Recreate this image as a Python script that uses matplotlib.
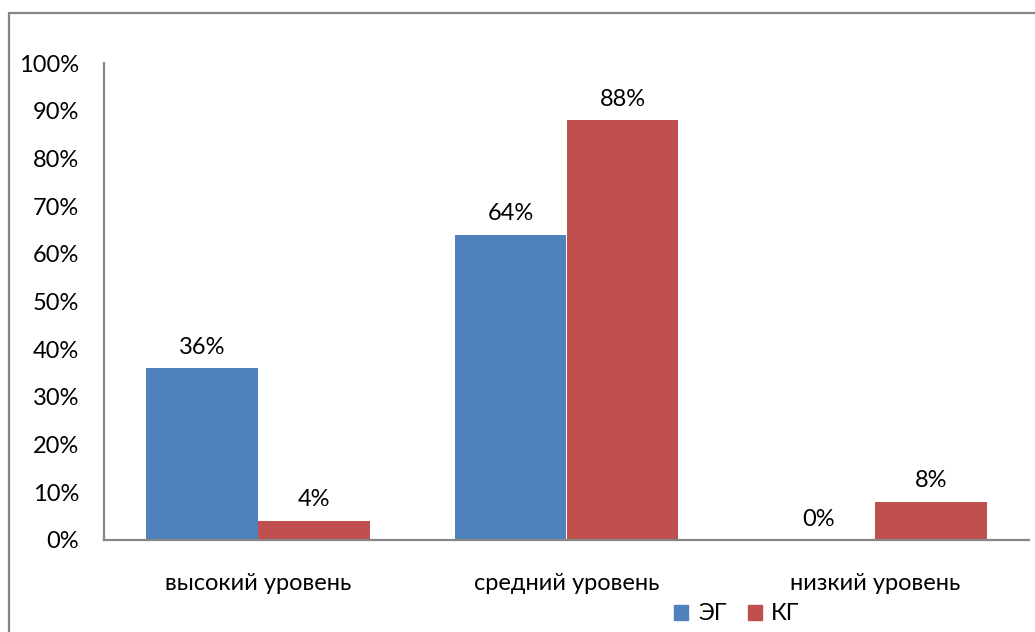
import matplotlib.pyplot as plt
import numpy as np
from matplotlib.patches import Rectangle, Patch

categories = ["высокий уровень", "средний уровень", "низкий уровень"]
series_names = ["ЭГ", "КГ"]
eg_values = [36, 64, 0]
kg_values = [4, 88, 8]
y_ticks = [0, 10, 20, 30, 40, 50, 60, 70, 80, 90, 100]

blue = "#4F81BD"
red = "#C0504D"
grey = "#868686"

plt.rcParams['font.family'] = ['Lato', 'DejaVu Sans']
fs = 17

W, H = 1035, 632
fig = plt.figure(figsize=(W / 100, H / 100), dpi=100)
ax = fig.add_axes([104 / W, 1 - 540 / H, 925 / W, 477 / H])

# outer chart frame (only left and top visible in the crop)
fig.patches.append(Rectangle((9 / W, -0.2), 1.3, 1.2 - 13 / H, transform=fig.transFigure,
                             fill=False, edgecolor=grey, linewidth=1.6))

x = np.arange(len(categories))
width = 0.363
b1 = ax.bar(x - width / 2, eg_values, width, color=blue)
b2 = ax.bar(x + width / 2, kg_values, width, color=red)

for bars, vals in ((b1, eg_values), (b2, kg_values)):
    for rect, v in zip(bars, vals):
        ax.text(rect.get_x() + rect.get_width() / 2, v + 2.2, f"{v}%",
                ha='center', va='bottom', fontsize=fs, color='#000000')

ax.set_xlim(-0.5, len(categories) - 0.5)
ax.set_ylim(0, 100)
ax.set_yticks(y_ticks)
ax.set_yticklabels([f"{t}%" for t in y_ticks], fontsize=fs)
ax.set_xticks(x)
ax.set_xticklabels(categories, fontsize=fs)
ax.tick_params(axis='y', length=0, pad=18)
ax.tick_params(axis='x', length=0, pad=24)

for s in ('top', 'right'):
    ax.spines[s].set_visible(False)
for s in ('left', 'bottom'):
    ax.spines[s].set_color(grey)
    ax.spines[s].set_linewidth(1.6)

handles = [Patch(color=blue), Patch(color=red)]
fig.legend(handles, series_names, loc='center', bbox_to_anchor=(737 / W, 1 - 614 / H),
           ncol=2, frameon=False, fontsize=fs, handlelength=0.6, handleheight=0.6,
           handletextpad=0.4, columnspacing=0.9, borderpad=0)

fig.savefig("out.png", dpi=100)
